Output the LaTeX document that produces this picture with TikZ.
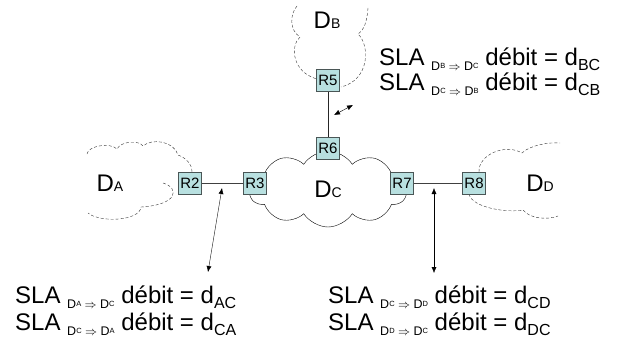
\documentclass[tikz,border=0pt]{standalone}
\usepackage{fontspec}
\setmainfont{Liberation Sans}
\usetikzlibrary{shapes.symbols,arrows.meta}

\definecolor{routerfill}{HTML}{B8E0E0}
\definecolor{routerline}{HTML}{4A5656}

\newcommand{\dname}[1]{D{\fontsize{14}{14}\selectfont #1}}
\newcommand{\dsmall}[1]{D\raisebox{1.5pt}{\fontsize{7.5}{7.5}\selectfont #1}}
\newcommand{\slaline}[3]{SLA \raisebox{-5pt}{\fontsize{12.5}{12.5}\selectfont\dsmall{#1} $\Rightarrow$ \dsmall{#2}} débit = d\raisebox{-5pt}{\fontsize{16}{16}\selectfont #3}}

\begin{document}
\begin{tikzpicture}[x=1pt,y=-1pt,
   router/.style={draw=routerline,fill=routerfill,minimum width=23pt,
      minimum height=22pt,inner sep=1pt,font=\fontsize{15}{15}\selectfont},
   domline/.style={densely dashed,thin,black!80},
   sla/.style={anchor=base west,inner sep=0pt,font=\fontsize{24}{24}\selectfont}]
   \useasboundingbox (0,0) rectangle (617,345);

   % domaine C (coeur)
   \node [cloud,draw,thin,cloud puffs=10,cloud puff arc=115,aspect=2,
      minimum width=158pt,minimum height=76pt,
      font=\fontsize{24}{24}\selectfont] (dc) at (328,189) {\dname{C}};

   % domaines A, B, D (en pointilles)
   \draw [domline]
      (87,154) .. controls (88,146) and (110,142) .. (117,149)
      .. controls (121,141) and (139,140) .. (143,146)
      .. controls (152,138) and (174,141) .. (178,155)
      .. controls (186,158) and (192,164) .. (192,172);
   \draw [domline]
      (163,183) .. controls (180,188) and (178,205) .. (141,207)
      .. controls (140,221) and (100,223) .. (88,213);
   \draw [domline]
      (297,6) .. controls (290,14) and (289,30) .. (300,37)
      .. controls (290,46) and (292,72) .. (317,79);
   \draw [domline]
      (368,8) .. controls (367,22) and (364,30) .. (358,34)
      .. controls (370,45) and (370,80) .. (341,87);
   \draw [domline]
      (479,172) .. controls (478,155) and (505,143) .. (522,153)
      .. controls (530,145) and (550,142) .. (560,143);
   \draw [domline]
      (469,194) .. controls (472,208) and (508,213) .. (523,210)
      .. controls (530,219) and (548,220) .. (558,216);

   \node (da) at (110,183) {\fontsize{24}{24}\selectfont\dname{A}};
   \node (db) at (327,20) {\fontsize{24}{24}\selectfont\dname{B}};
   \node (dd) at (540,183) {\fontsize{24}{24}\selectfont\dname{D}};

   % liens
   \draw [thin,black!75] (190,183) -- (255,183);
   \draw [thin,black!75] (402,183) -- (474,183);
   \draw [thin,black!85] (328,80) -- (328,148);

   % routeurs
   \node [router] (r2) at (190,183) {R2};
   \node [router] (r3) at (255,183) {R3};
   \node [router] (r5) at (328,80) {R5};
   \node [router] (r6) at (328,148) {R6};
   \node [router] (r7) at (402,183) {R7};
   \node [router] (r8) at (474,183) {R8};

   % SLA
   \node [sla] (slabc) at (379,65) {\slaline{B}{C}{BC}};
   \node [sla] (slacb) at (379,90) {\slaline{C}{B}{CB}};
   \node [sla] (slaac) at (15,303) {\slaline{A}{C}{AC}};
   \node [sla] (slaca) at (15,330) {\slaline{C}{A}{CA}};
   \node [sla] (slacd) at (328,303) {\slaline{C}{D}{CD}};
   \node [sla] (sladc) at (328,330) {\slaline{D}{C}{DC}};

   \coordinate (ab1) at (222,188);
   \coordinate (ab2) at (208,272);
   \coordinate (bb1) at (334,115);
   \coordinate (bb2) at (353,105);
   \coordinate (db1) at (434,188);
   \coordinate (db2) at (434,273);
   \draw [{Latex[length=6pt,width=5pt]}-{Latex[length=6pt,width=5pt]}] (ab1) -- (ab2);
   \draw [{Latex[length=6pt,width=5pt]}-{Latex[length=6pt,width=5pt]}] (bb1) -- (bb2);
   \draw [{Latex[length=6pt,width=5pt]}-{Latex[length=6pt,width=5pt]}] (db1) -- (db2);
\end{tikzpicture}
\end{document}
